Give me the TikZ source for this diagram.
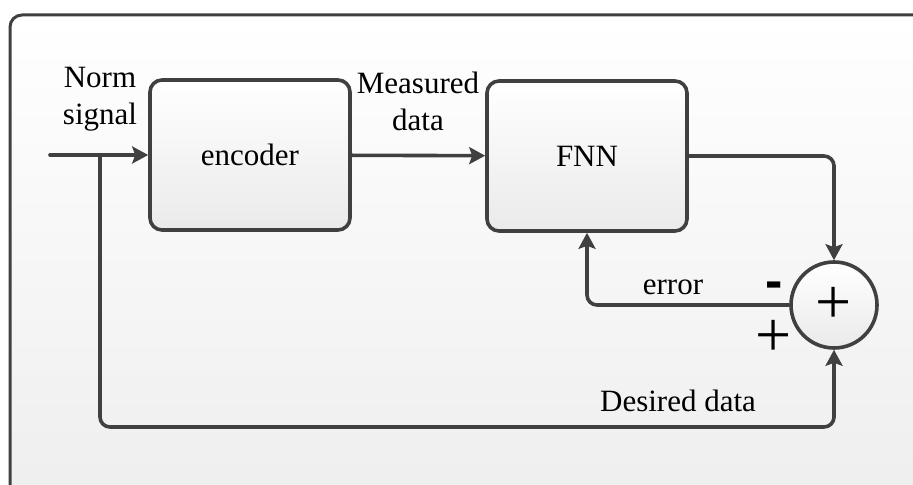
\documentclass[tikz,border=0pt]{standalone}
\usepackage{fontspec}
\setmainfont{Liberation Serif}
\setsansfont{Liberation Sans}
\usetikzlibrary{arrows.meta}
\definecolor{linec}{RGB}{64,64,64}
\definecolor{boxbot}{RGB}{234,234,234}
\definecolor{framebot}{RGB}{238,238,238}
\tikzset{
	block/.style={draw=linec,line width=1.8pt,rounded corners=6pt,top color=white,bottom color=boxbot,minimum width=100pt,minimum height=75pt,inner sep=0pt},
	sum/.style={circle,draw=linec,line width=1.8pt,top color=white,bottom color=boxbot,minimum size=43pt,inner sep=0pt,font=\fontsize{32}{32}\selectfont},
	arr/.style={draw=linec,line width=1.8pt,-{Stealth[length=8pt,width=8.5pt,inset=1.5pt]}},
	lbl/.style={align=center,inner sep=0pt},
	sign/.style={inner sep=0pt,font=\fontsize{26}{26}\sffamily\bfseries},
	signb/.style={inner sep=0pt,font=\fontsize{32}{32}\selectfont}
}
\begin{document}
\begin{tikzpicture}[x=0.5pt,y=-0.5pt,line join=round,line cap=round,font=\fontsize{15.5}{18.5}\selectfont]
		\clip (0,0) rectangle (913,485);
		\fill[white] (0,0) rectangle (913,485);
		%========khung ngoai
		\draw[draw=linec,line width=1.5pt,rounded corners=6pt,top color=white,bottom color=framebot] (10,15) rectangle (940,505);
		%========cac khoi
		\node[block] (enc) at (250,155) {encoder};
		\node[block] (fnn) at (587,156) {FNN};
		\node[sum] (sum) at (834,305) {+};
		\path
		(50,155) coordinate (in)
		(100,155) coordinate (br)
		(100,427) coordinate (bl)
		;
		%========cac mui ten
		\draw[arr] (in) -- (enc);
		\draw[arr] (enc) -- (fnn);
		\draw[arr,rounded corners=5pt] (fnn) -| (sum);
		\draw[arr,rounded corners=5pt] (sum) -| (fnn);
		\draw[arr,rounded corners=5pt] (br) -- (bl) -| (sum);
		%========nhan
		\node[lbl] (norm) at (100,99) {Norm\\signal};
		\node[lbl] (meas) at (418,101) {Measured\\data};
		\node[lbl] (err) at (673,287) {error};
		\node[lbl] (des) at (678,401) {Desired data};
		\node[sign] (minus) at (774,290) {-};
		\node[signb] (plus) at (774,338) {+};
		\end{tikzpicture}
\end{document}
